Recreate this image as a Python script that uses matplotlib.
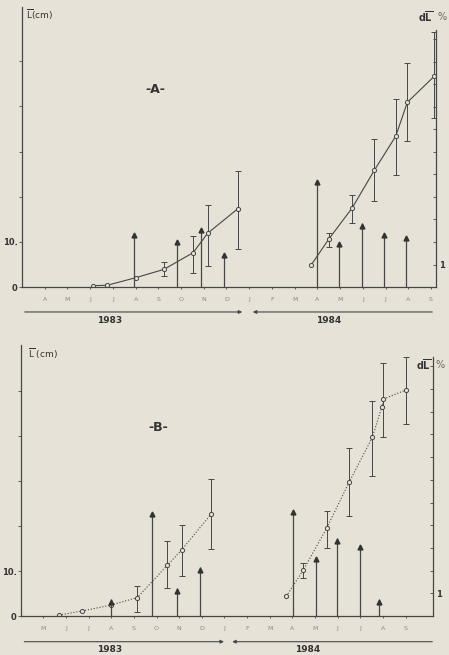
import numpy as np
import matplotlib.pyplot as plt

# panel A : mean length L (cm) and growth rate dL % (arrows)
a_months = ['A', 'M', 'J', 'J', 'A', 'S', 'O', 'N', 'D', 'J', 'F', 'M', 'A', 'M', 'J', 'J', 'A', 'S']
a_x = [3.14, 3.76, 5.03, 6.24, 7.53, 8.17, 9.49, 12.73, 13.50, 14.53, 15.50, 16.45, 16.96, 18.15]
a_len = [0.3, 0.4, 2.1, 3.9, 7.6, 11.9, 17.3, 4.9, 10.6, 17.5, 25.8, 33.4, 40.9, 46.7]
a_lo = [np.nan, np.nan, np.nan, 2.4, 3.2, 4.7, 8.4, np.nan, 8.8, 14.2, 19.0, 24.9, 32.3, 37.5]
a_hi = [np.nan, np.nan, np.nan, 5.6, 11.2, 18.1, 25.6, np.nan, 11.9, 20.3, 32.8, 41.7, 49.7, 56.4]
a_arrow_x = [4.91, 6.83, 7.88, 8.90, 12.99, 13.94, 14.96, 15.94, 16.91]
a_arrow_dl = [2.39, 2.09, 2.64, 1.52, 4.76, 2.01, 2.83, 2.41, 2.27]

# panel B
b_months = ['M', 'J', 'J', 'A', 'S', 'O', 'N', 'D', 'J', 'F', 'M', 'A', 'M', 'J', 'J', 'A', 'S']
b_x = [1.69, 2.69, 3.97, 5.15, 6.48, 7.11, 8.42, 11.73, 12.48, 13.51, 14.50, 15.53, 15.95, 16.02, 17.0]
b_len = [0.2, 1.1, 2.4, 4.1, 11.3, 14.7, 22.7, 4.4, 10.2, 19.5, 29.7, 39.7, 46.5, 48.2, 50.2]
b_lo = [np.nan, np.nan, np.nan, 1.0, 6.2, 9.0, 14.8, np.nan, 8.4, 15.2, 22.2, 31.1, np.nan, 39.8, 42.6]
b_hi = [np.nan, np.nan, np.nan, 6.7, 16.7, 20.2, 30.4, np.nan, 11.7, 23.3, 37.3, 47.8, np.nan, 56.3, 57.6]
b_arrow_x = [4.0, 5.81, 6.89, 7.90, 12.02, 13.03, 13.99, 14.98, 15.82]
b_arrow_dl = [0.74, 4.6, 1.22, 2.15, 4.67, 2.61, 3.42, 3.13, 0.74]

bg = '#e6e2d7'
ink = '#464646'

fig = plt.figure(figsize=(4.49, 6.55), dpi=100, facecolor=bg)


def panel(rect, months, xs, ls, lo, hi, ax_x, ax_dl, ymax, rmax, style, letter, lpos):
    ax = fig.add_axes(rect)
    ax.set_facecolor(bg)
    ax.set_xlim(0, 18.22)
    ax.set_ylim(0, ymax)
    for s in ['top', 'right']:
        ax.spines[s].set_visible(False)
    for s in ['left', 'bottom']:
        ax.spines[s].set_color(ink)
        ax.spines[s].set_linewidth(0.9)
    ax.set_xticks(range(1, len(months) + 1))
    ax.set_xticklabels(months, fontsize=4.5, color='#888888')
    ax.set_yticks([0, 10, 20, 30, 40, 50])
    ax.set_yticklabels(['0', '10.', '', '', '', ''], fontsize=6, color='#333333', fontweight='bold')
    ax.tick_params(axis='x', length=1.5, width=0.6, color=ink, pad=6)
    ax.tick_params(axis='y', length=2, width=0.6, color=ink, pad=1)

    lo = np.array(lo)
    hi = np.array(hi)
    ls = np.array(ls)
    err = [ls - lo, hi - ls]
    ax.errorbar(xs, ls, yerr=err, fmt='none', ecolor=ink, elinewidth=0.7, capsize=2, capthick=0.7)
    ax.plot(xs[:7], ls[:7], linestyle=style, color=ink, lw=0.8, marker='o', ms=3,
            mfc=bg, mec=ink, mew=0.7)
    ax.plot(xs[7:], ls[7:], linestyle=style, color=ink, lw=0.8, marker='o', ms=3,
            mfc=bg, mec=ink, mew=0.7)

    ax2 = ax.twinx()
    ax2.set_ylim(0, rmax)
    for s in ['top', 'left', 'bottom']:
        ax2.spines[s].set_visible(False)
    ax2.spines['right'].set_bounds(0, 11.4)
    ax2.spines['right'].set_color(ink)
    ax2.spines['right'].set_linewidth(0.9)
    ax2.set_yticks(range(1, 12))
    ax2.set_yticklabels(['1'] + [''] * 10, fontsize=6, color='#333333', fontweight='bold')
    ax2.tick_params(axis='y', length=2, width=0.6, color=ink, pad=2, direction='in')
    ax2.vlines(ax_x, 0, ax_dl, color=ink, lw=0.9)
    ax2.plot(ax_x, np.array(ax_dl) - 0.1, linestyle='none', marker='^', ms=3.5, color='#333333')

    ax.text(lpos[0], lpos[1], letter, transform=fig.transFigure, fontsize=9,
            fontweight='bold', color='#333333', ha='center', va='center')
    return ax


ax_a = panel([0.049, 0.5618, 0.922, 0.4275], a_months, a_x, a_len, a_lo, a_hi,
             a_arrow_x, a_arrow_dl, 62, 12.44, '-', '-A-', (0.345, 0.863))
ax_b = panel([0.046, 0.0595, 0.919, 0.4137], b_months, b_x, b_len, b_lo, b_hi,
             b_arrow_x, b_arrow_dl, 60.2, 11.94, ':', '-B-', (0.352, 0.3466))

# axis titles
fig.text(0.058, 0.977, r'$\overline{\mathrm{L}}$(cm)', fontsize=6.5, color='#333333', va='center')
fig.text(0.965, 0.974, r'd$\overline{\mathbf{L}}$', fontsize=7, color='#333333', ha='right',
         va='center', fontweight='bold')
fig.text(0.975, 0.974, '%', fontsize=7, color='#666666', ha='left', va='center')
fig.text(0.062, 0.459, r'$\overline{\mathrm{L}}$ (cm)', fontsize=6.5, color='#333333', va='center')
fig.text(0.960, 0.443, r'd$\overline{\mathbf{L}}$', fontsize=7, color='#333333', ha='right',
         va='center', fontweight='bold')
fig.text(0.970, 0.443, '%', fontsize=7, color='#666666', ha='left', va='center')

# year time lines under each panel
arr = dict(arrowstyle='-|>', color=ink, lw=0.8, mutation_scale=5)
for y, x0, xm1, xm2, x1, ty, t83, t84 in [(0.5237, 0.049, 0.5457, 0.5568, 0.969, 0.5105, 0.245, 0.733),
                                          (0.0203, 0.048, 0.505, 0.511, 0.969, 0.0078, 0.245, 0.686)]:
    fig.add_artist(plt.matplotlib.patches.FancyArrowPatch((x0, y), (xm1, y), transform=fig.transFigure, **arr))
    fig.add_artist(plt.matplotlib.patches.FancyArrowPatch((x1, y), (xm2, y), transform=fig.transFigure, **arr))
    fig.text(t83, ty, '1983', fontsize=6.5, fontweight='bold', color='#333333', ha='center', va='center')
    fig.text(t84, ty, '1984', fontsize=6.5, fontweight='bold', color='#333333', ha='center', va='center')

fig.savefig('out.png', dpi=100, facecolor=bg)
